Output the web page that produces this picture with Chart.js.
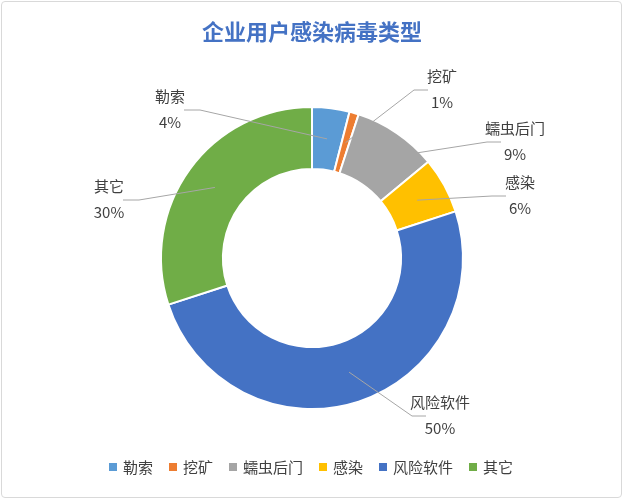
<!DOCTYPE html>
<html><head><meta charset="utf-8">
<script src="https://cdn.jsdelivr.net/npm/chart.js@4/dist/chart.umd.min.js"></script>
<style>html,body{margin:0;padding:0;background:#fff}#wrap{width:625px;height:501px;position:relative}
#frame{position:absolute;left:1px;top:1px;width:621px;height:497px;border:1px solid #d9d9d9;border-radius:4px;box-sizing:border-box}</style>
</head><body><div id="wrap"><div id="frame"></div><canvas id="c" width="625" height="501"></canvas></div>
<script>
const titleText = "企业用户感染病毒类型";
const categories = ["勒索","挖矿","蠕虫后门","感染","风险软件","其它"];
const values = [4,1,9,6,50,30];
const colors = ["#5B9BD5","#ED7D31","#A5A5A5","#FFC000","#4472C4","#70AD47"];
// label anchor offsets (from chart centre) and leader-line inner radius fraction
const labelPos = [[-142,-158,'center'],[130,-178,'center'],[203,-126,'center'],[208,-72,'center'],[128,148,'center'],[-203,-68,'center']];
const FONT = '"Noto Sans CJK SC", "Noto Sans", sans-serif';

const overlay = {
  id:'overlay',
  afterDraw(chart){
    const ctx = chart.ctx;
    const meta = chart.getDatasetMeta(0);
    ctx.save();
    // title
    ctx.fillStyle = '#4472C4';
    ctx.font = 'bold 22px ' + FONT;
    ctx.textAlign='center'; ctx.textBaseline='middle';
    ctx.fillText(titleText, 312, 32);
    // labels
    meta.data.forEach((arc,i)=>{
      const p = arc.getProps(['x','y','startAngle','endAngle','innerRadius','outerRadius'],true);
      const a = (p.startAngle+p.endAngle)/2;
      const r = (p.innerRadius+p.outerRadius)/2;
      const sx = p.x + Math.cos(a)*r, sy = p.y + Math.sin(a)*r;
      const lx = p.x + labelPos[i][0], ly = p.y + labelPos[i][1];
      const ex = lx + (lx < p.x ? 30 : -28), ey = ly + 10;
      ctx.strokeStyle='#a6a6a6'; ctx.lineWidth=1;
      ctx.beginPath(); ctx.moveTo(sx,sy); ctx.lineTo(ex,ey); ctx.lineTo(lx+(lx<p.x?14:-14),ey); ctx.stroke();
      ctx.fillStyle='#404040'; ctx.font='15px '+FONT; ctx.textAlign='center';
      ctx.fillText(categories[i], lx, ly-4);
      ctx.fillText(values[i]+'%', lx, ly+22);
    });
    // legend
    ctx.font='15px '+FONT; ctx.textAlign='left';
    let widths = categories.map(c=>ctx.measureText(c).width+10+6);
    const gap=14; const total = widths.reduce((s,w)=>s+w,0)+gap*(categories.length-1);
    let x = 312 - total/2; const y=467;
    categories.forEach((c,i)=>{
      ctx.fillStyle=colors[i]; ctx.fillRect(x,y-4,8,8);
      ctx.fillStyle='#404040'; ctx.fillText(c,x+14,y);
      x += widths[i]+gap;
    });
    ctx.restore();
  }
};

new Chart(document.getElementById('c'),{
  type:'doughnut',
  data:{labels:categories,datasets:[{data:values,backgroundColor:colors,borderColor:'#fff',borderWidth:2}]},
  options:{responsive:false,animation:false,cutout:'59%',
    layout:{padding:{top:106,bottom:91,left:160,right:161}},
    plugins:{legend:{display:false},title:{display:false},tooltip:{enabled:false}}},
  plugins:[overlay]
});
</script></body></html>
